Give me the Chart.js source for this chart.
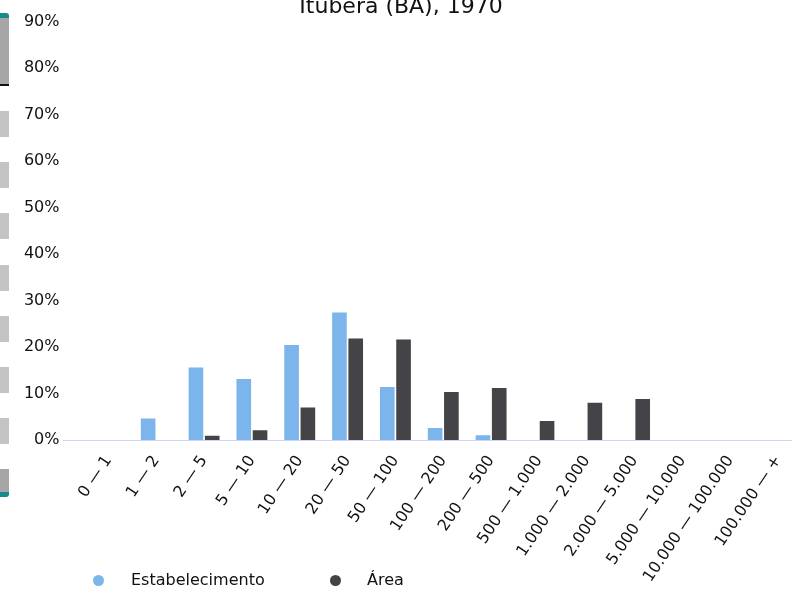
<!DOCTYPE html>
<html><head><meta charset="utf-8">
<script src="https://cdn.jsdelivr.net/npm/chart.js@4.4.1/dist/chart.umd.min.js"></script>
<style>
html,body{margin:0;padding:0;width:792px;height:589px;overflow:hidden;background:#fff;font-family:"DejaVu Sans",sans-serif;}
#wrap{position:absolute;left:0;top:-20px;width:882px;height:609px;}
.sb{position:absolute;left:0;width:9px;}
#legend{position:absolute;top:570px;left:0;height:20px;font-size:16px;color:#111;}
.li{position:absolute;top:0;white-space:nowrap;line-height:20px;}
.dot{position:absolute;width:11px;height:11px;border-radius:50%;top:5px;}
</style></head>
<body>
<div id="wrap"><canvas id="c" width="882" height="609"></canvas></div>
<div class="sb" style="top:13px;height:73px;background:#a6a6a6;border-top:5px solid #128c8c;border-bottom:2px solid #111;box-sizing:border-box;border-radius:0 3px 0 0;"></div>
<div class="sb" style="top:111px;height:26px;background:#c4c4c4;"></div>
<div class="sb" style="top:162px;height:26px;background:#c4c4c4;"></div>
<div class="sb" style="top:213px;height:26px;background:#c4c4c4;"></div>
<div class="sb" style="top:265px;height:26px;background:#c4c4c4;"></div>
<div class="sb" style="top:316px;height:26px;background:#c4c4c4;"></div>
<div class="sb" style="top:367px;height:26px;background:#c4c4c4;"></div>
<div class="sb" style="top:418px;height:26px;background:#c4c4c4;"></div>
<div class="sb" style="top:469px;height:28px;background:#a6a6a6;border-bottom:5px solid #128c8c;box-sizing:border-box;border-radius:0 0 3px 0;"></div>
<div id="legend"></div>
<script>
const title = "Ituberá (BA), 1970";
const categories = ["0 — 1","1 — 2","2 — 5","5 — 10","10 — 20","20 — 50","50 — 100","100 — 200","200 — 500","500 — 1.000","1.000 — 2.000","2.000 — 5.000","5.000 — 10.000","10.000 — 100.000","100.000 — +"];
const seriesNames = ["Estabelecimento","Área"];
const estabelecimento = [0, 4.6, 15.6, 13.1, 20.4, 27.4, 11.4, 2.6, 1.0, 0, 0, 0, 0, 0, 0];
const area = [0, 0, 0.9, 2.1, 7.0, 21.8, 21.6, 10.3, 11.2, 4.1, 8.0, 8.8, 0, 0, 0];
const yTicks = [0,10,20,30,40,50,60,70,80,90];
const colors = ["#7cb5ec","#434348"];

const baseLine = {
  id:'baseLine',
  afterDatasetsDraw(chart){
    const ctx = chart.ctx, y = Math.round(chart.scales.y.getPixelForValue(0)) + 0.5;
    ctx.save();
    ctx.strokeStyle = '#ccd6eb'; ctx.lineWidth = 1;
    ctx.beginPath(); ctx.moveTo(63, y); ctx.lineTo(chart.width, y); ctx.stroke();
    ctx.restore();
  }
};

new Chart(document.getElementById('c'), {
  type:'bar',
  data:{
    labels: categories,
    datasets:[
      {label: seriesNames[0], data: estabelecimento, backgroundColor: colors[0]},
      {label: seriesNames[1], data: area, backgroundColor: colors[1]}
    ]
  },
  options:{
    responsive:false, animation:false,
    devicePixelRatio:1,
    layout:{padding:{left:0,right:80,top:0,bottom:0}},
    datasets:{bar:{categoryPercentage:0.68, barPercentage:0.9}},
    plugins:{
      legend:{display:false},
      tooltip:{enabled:false},
      title:{display:true, text:title, color:'#111', font:{family:'DejaVu Sans', size:22, weight:'normal'}, padding:{top:14,bottom:1}}
    },
    scales:{
      x:{
        grid:{display:false, drawTicks:false}, border:{display:false},
        afterFit(s){ s.height = 149; },
        ticks:{color:'#111', font:{family:'DejaVu Sans', size:16}, minRotation:56, maxRotation:56, autoSkip:false, padding:12}
      },
      y:{
        min:0, max:90,
        afterFit(s){ s.width = 84.5; },
        afterBuildTicks(s){ s.ticks = yTicks.map(v=>({value:v})); },
        grid:{display:false, drawTicks:false}, border:{display:false},
        ticks:{color:'#111', font:{family:'DejaVu Sans', size:16}, padding:25, callback:v=>v+'%'}
      }
    }
  },
  plugins:[baseLine]
});

const leg = document.getElementById('legend');
const pos = [{dot:93,text:131},{dot:330,text:367}];
seriesNames.forEach((n,i)=>{
  const d = document.createElement('div'); d.className='dot'; d.style.left=pos[i].dot+'px'; d.style.background=colors[i];
  const t = document.createElement('div'); t.className='li'; t.style.left=pos[i].text+'px'; t.textContent=n;
  leg.appendChild(d); leg.appendChild(t);
});
</script>
</body></html>
